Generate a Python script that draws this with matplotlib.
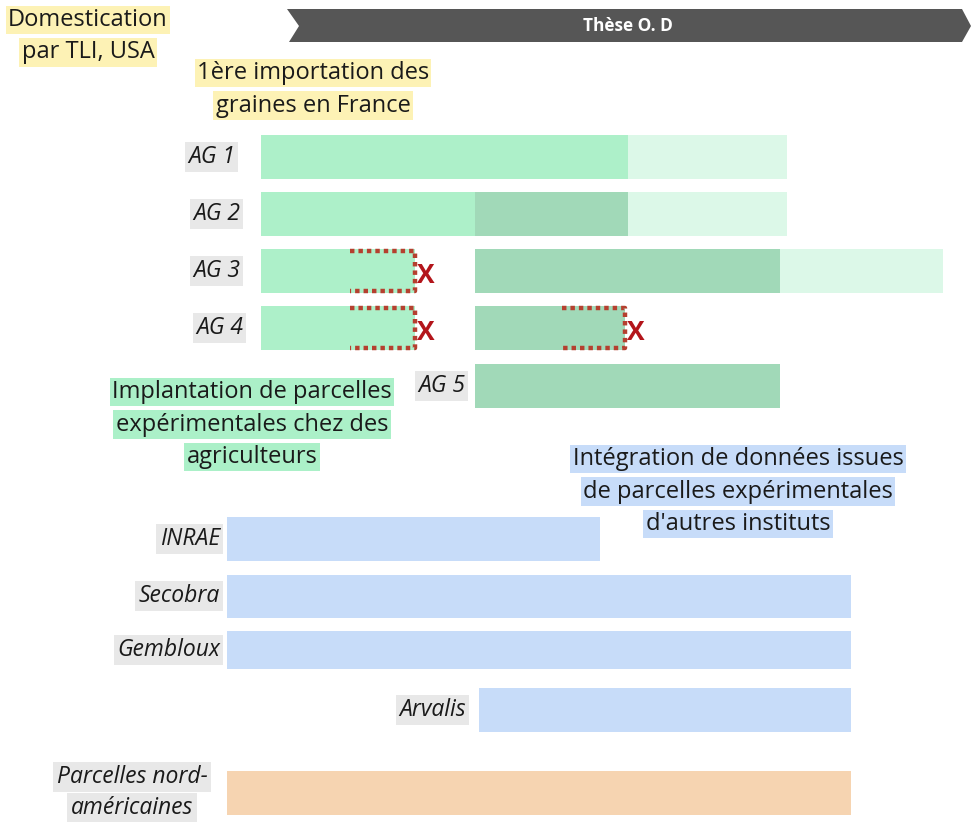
import matplotlib.pyplot as plt
from matplotlib.patches import Polygon

plt.rcParams['font.family'] = ['Open Sans', 'DejaVu Sans']

# timeline in arbitrary units (0 = left edge of the sheet, 973 = right edge)
ag_labels = ['AG 1', 'AG 2', 'AG 3', 'AG 4', 'AG 5']
ag_segments = [
    [(261, 628, 'light'), (628, 787, 'pale')],
    [(261, 475, 'light'), (475, 628, 'mid'), (628, 787, 'pale')],
    [(261, 415, 'light'), (475, 780, 'mid'), (780, 943, 'pale')],
    [(261, 415, 'light'), (475, 625, 'mid')],
    [(475, 780, 'mid')],
]
# abandoned parts (start, end) per AG row
ag_stopped = [[], [], [(350, 415)], [(350, 415), (562, 625)], []]

inst_labels = ['INRAE', 'Secobra', 'Gembloux', 'Arvalis', 'Parcelles nord-\naméricaines']
inst_start = [227, 227, 227, 479, 227]
inst_end = [600, 851, 851, 851, 851]
inst_tone = ['blue', 'blue', 'blue', 'blue', 'orange']

tones = {'light': '#adf0c9', 'mid': '#a1d9b8', 'pale': '#dcf8e8',
         'blue': '#c7dcf9', 'orange': '#f6d4b1'}

# layout
ag_y = [157, 214, 271, 328, 386]
ag_h = 44
ag_label_x = [235, 240, 240, 243, 465]
inst_y = [539, 596, 650, 710, 793]
inst_h = [44, 43, 38, 44, 44]
inst_label_x = [220, 220, 220, 466, 132]

fig = plt.figure(figsize=(9.73, 8.22), dpi=100)
ax = fig.add_axes([0, 0, 1, 1])
ax.set_xlim(0, 973)
ax.set_ylim(822, 0)
ax.axis('off')

grey_box = dict(boxstyle='square,pad=0.15', fc='#e8e8e8', ec='none')

for i, segs in enumerate(ag_segments):
    for s, e, t in segs:
        ax.barh(ag_y[i], e - s, left=s, height=ag_h, color=tones[t], edgecolor='none')
    for s, e in ag_stopped[i]:
        top = ag_y[i] - ag_h / 2 + 2
        bot = ag_y[i] + ag_h / 2 - 2
        ax.plot([s, e, e, s], [top, top, bot, bot], color='#b5402f', lw=3.2,
                linestyle=(0, (1, 0.9)), solid_capstyle='butt')
        ax.text(e + 2, ag_y[i] + 4, 'X', color='#b3151b', fontsize=19,
                fontweight='bold', ha='left', va='center')
    ax.text(ag_label_x[i], ag_y[i], ag_labels[i], fontsize=16.5, style='italic',
            ha='right', va='center', bbox=grey_box, color='#1a1a1a')

for i, lab in enumerate(inst_labels):
    ax.barh(inst_y[i], inst_end[i] - inst_start[i], left=inst_start[i],
            height=inst_h[i], color=tones[inst_tone[i]], edgecolor='none')
    if '\n' in lab:
        for k, line in enumerate(lab.split('\n')):
            ax.text(inst_label_x[i], inst_y[i] - 16 + 31 * k, line, fontsize=16.5,
                    style='italic', ha='center', va='center', bbox=grey_box,
                    color='#1a1a1a')
    else:
        ax.text(inst_label_x[i], inst_y[i], lab, fontsize=16.5, style='italic',
                ha='right', va='center', bbox=grey_box, color='#1a1a1a')

# banner
ax.add_patch(Polygon([(287, 9), (962, 9), (971, 26), (962, 42), (289, 42), (299, 26)],
                     closed=True, fc='#565656', ec='none'))
ax.text(628, 26, 'Thèse O. D', color='white', fontsize=12.4, fontweight='bold',
        ha='center', va='center')


def notes(lines, x, y0, color):
    for k, line in enumerate(lines):
        ax.text(x, y0 + 32.5 * k, line, fontsize=17, ha='center', va='center',
                color='#1a1a1a',
                bbox=dict(boxstyle='square,pad=0.1', fc=color, ec='none'))


notes(['Domestication', 'par TLI, USA'], 88, 20, '#fdf2b5')
notes(['1ère importation des', 'graines en France'], 313, 73, '#fdf2b5')
notes(['Implantation de parcelles', 'expérimentales chez des', 'agriculteurs'],
      252, 392, '#abf0c8')
notes(['Intégration de données issues', 'de parcelles expérimentales',
       "d'autres instituts"], 738, 459, '#c7dcf9')

fig.savefig('out.png', dpi=100)
